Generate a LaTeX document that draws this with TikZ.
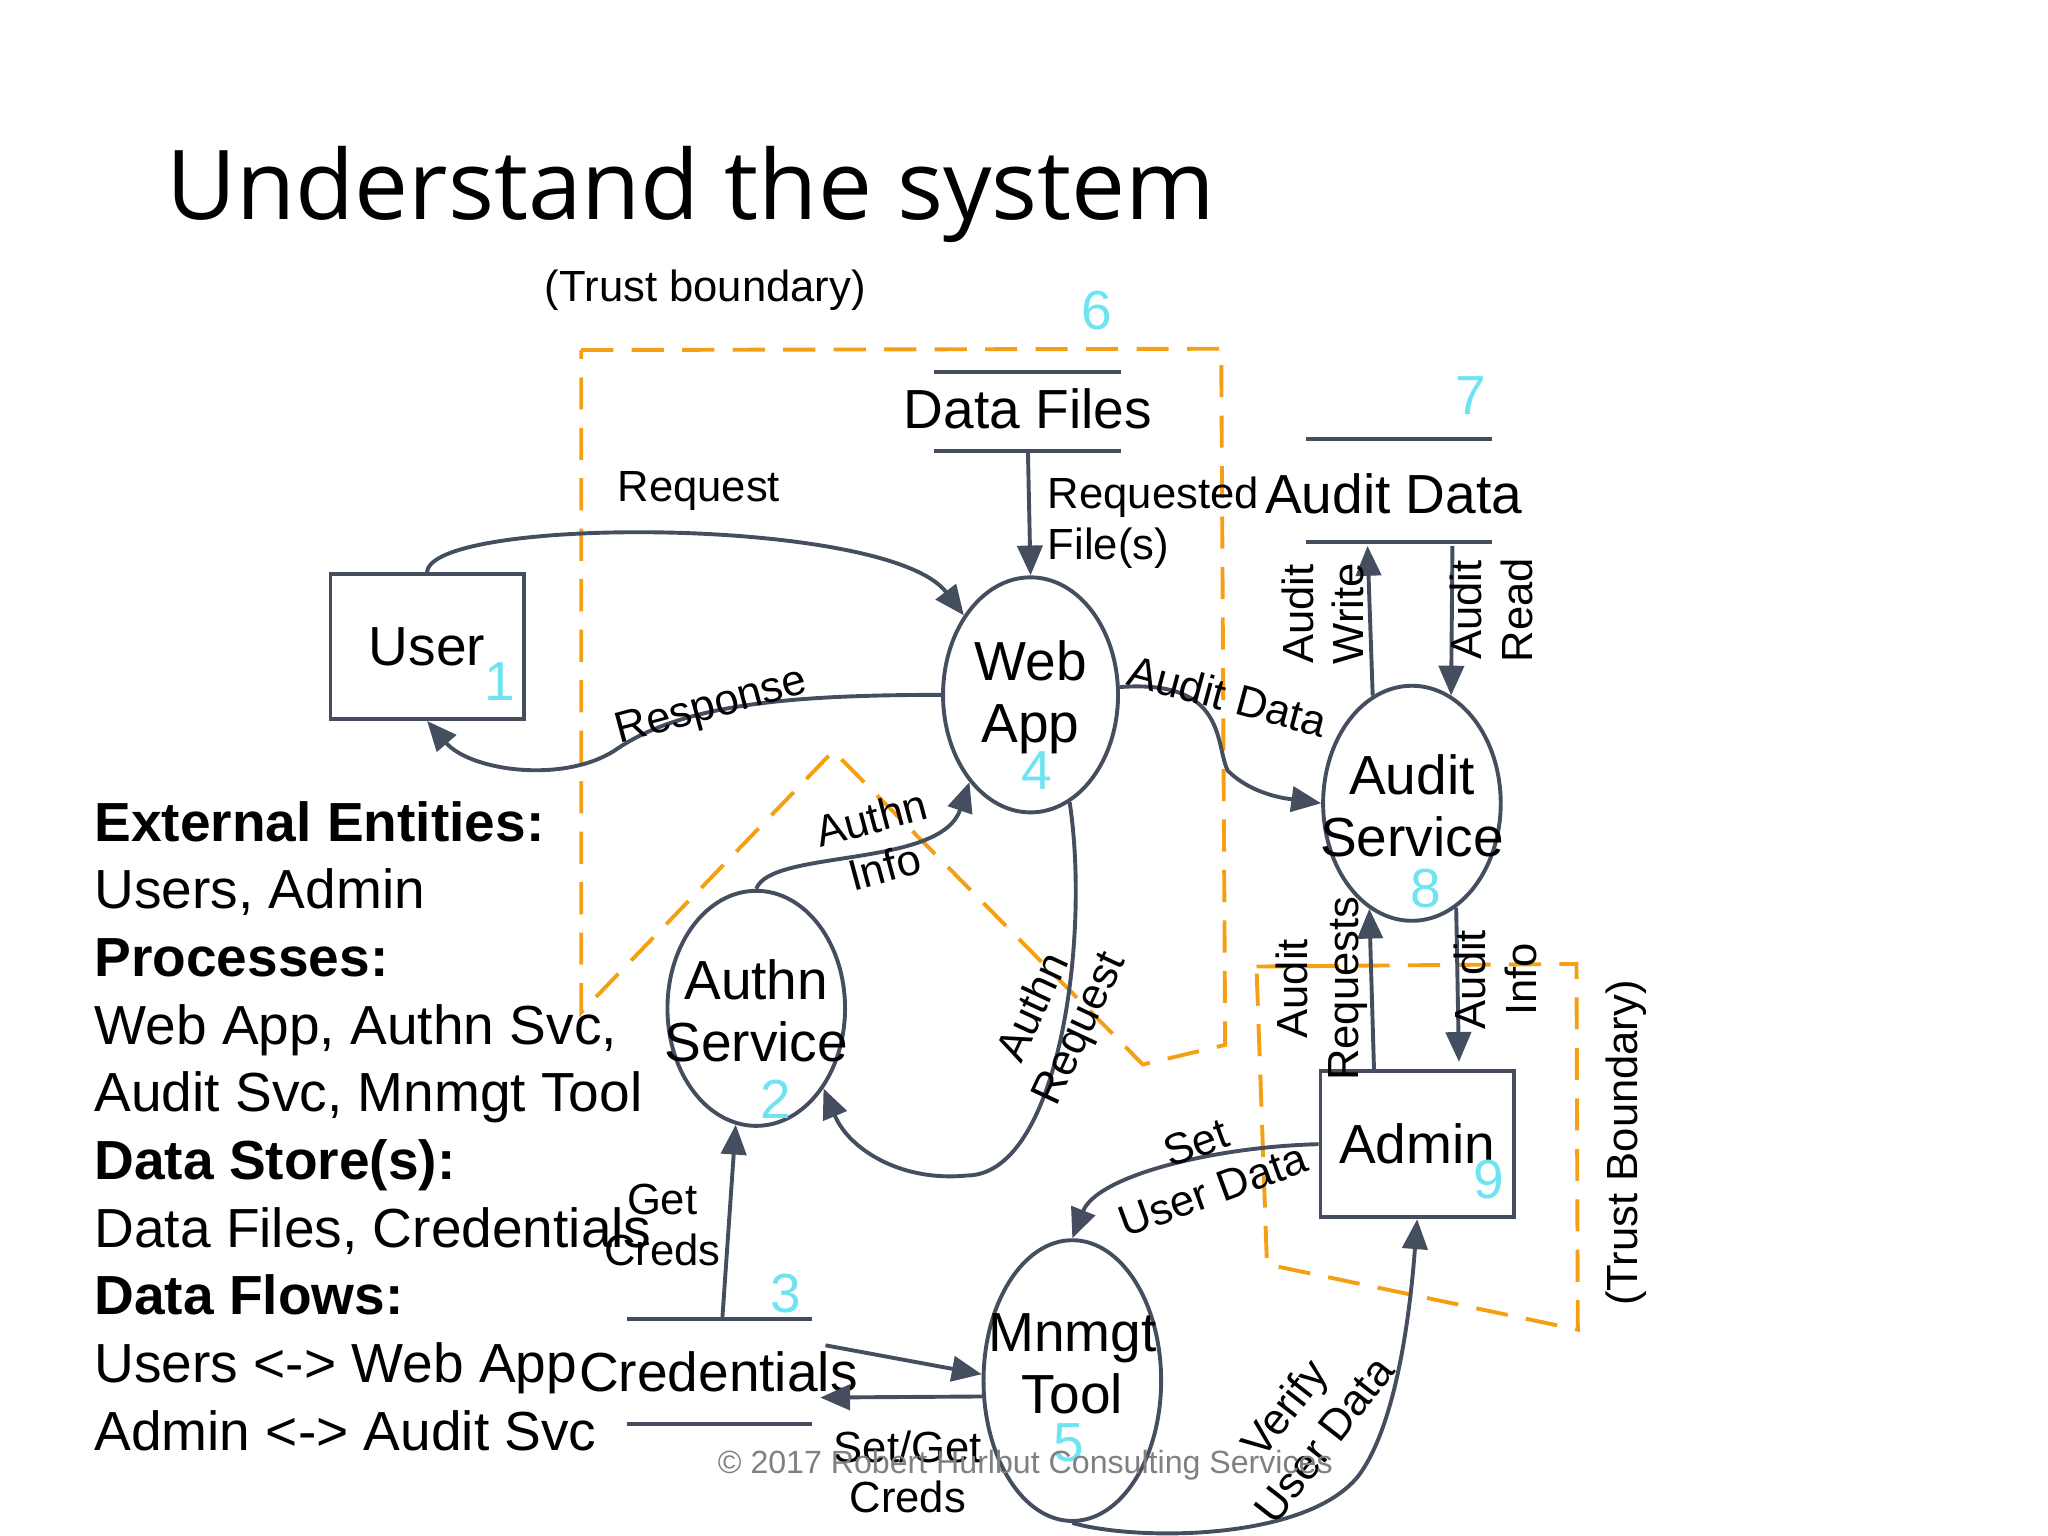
\documentclass[tikz,border=0pt]{standalone}
\usepackage{fontspec}
\setmainfont{Liberation Sans}
\newfontfamily\titlefont{Open Sans}
\usetikzlibrary{arrows.meta,shapes.geometric}
\definecolor{ln}{RGB}{68,78,95}
\definecolor{cy}{RGB}{110,228,240}
\definecolor{orng}{RGB}{245,160,20}
\begin{document}
\begin{tikzpicture}[x=0.02cm,y=-0.02cm,
 every node/.style={font=\fontsize{24}{27}\selectfont,inner sep=0pt},
 lbl/.style={font=\fontsize{19}{22}\selectfont,align=center},
 num/.style={text=cy,font=\fontsize{24}{27}\selectfont},
 proc/.style={draw=ln,line width=1.7pt,ellipse},
 ptext/.style={align=center},
 box/.style={draw=ln,line width=1.7pt,rectangle},
 st/.style={draw=ln,line width=1.7pt},
 fl/.style={draw=ln,line width=1.7pt,-{Triangle[length=13pt,width=11pt]}},
 tb/.style={draw=orng,line width=1.7pt,dash pattern=on 14pt off 8pt}]
\useasboundingbox (0,0) rectangle (1568,1176);
\node[anchor=base west,font=\titlefont\fontsize{42}{48}\selectfont] (title) at (127,168) {Understand the system};
\node[lbl] (tbl) at (540,222) {(Trust boundary)};
\node[num] (n6) at (840,238) {6};
\draw[tb] (445,268) -- (935,267) -- (938,800) -- (875,815) -- (638,575) -- (445,775) -- cycle;
\draw[tb] (962,740) -- (1207,738) -- (1208,1018) -- (970,968) -- cycle;
\node[lbl,rotate=90] (tbr) at (1245,875) {(Trust Boundary)};
% stores
\draw[st] (715,285) -- (858,285) (715,345) -- (858,345);
\node (df) at (787,313) {Data Files};
\coordinate (dfb) at (787,345);
\draw[st] (1000,336) -- (1142,336) (1000,415) -- (1142,415);
\node (ad) at (1067,378) {Audit Data};
\node[num] (n7) at (1126,303) {7};
\draw[st] (480,1010) -- (622,1010) (480,1090) -- (622,1090);
\node (cr) at (550,1050) {Credentials};
\node[num] (n3) at (602,990) {3};
% entities
\node[box,minimum width=2.96cm,minimum height=2.22cm] (user) at (327,495) {User};
\node[num] (n1) at (383,522) {1};
\node[box,minimum width=2.96cm,minimum height=2.24cm] (admin) at (1085,876) {Admin};
\node[num] (n9) at (1140,903) {9};
% processes
\node[proc,minimum width=2.68cm,minimum height=3.6cm] (web) at (789,532) {};
\node[ptext] (webt) at (789,534) {Web\\App};
\node[num] (n4) at (794,590) {4};
\node[proc,minimum width=2.72cm,minimum height=3.6cm] (aud) at (1081,615) {};
\node[ptext] (audt) at (1081,617) {Audit\\Service};
\node[num] (n8) at (1092,680) {8};
\node[proc,minimum width=2.72cm,minimum height=3.6cm] (auth) at (579,772) {};
\node[ptext] (autht) at (579,774) {Authn\\Service};
\node[num] (n2) at (594,842) {2};
\node[proc,minimum width=2.72cm,minimum height=4.3cm] (mn) at (821,1057) {};
\node[ptext] (mnt) at (821,1044) {Mnmgt\\Tool};
\node[num] (n5) at (818,1105) {5};
% flows
\draw[fl] (user.north) .. controls (330,395) and (680,395) .. (web.130);
\node[lbl] (lreq) at (535,376) {Request};
\draw[fl] (web.west) .. controls (600,532) and (520,540) .. (470,575) .. controls (430,600) and (360,590) .. (user.south);
\node[lbl,rotate=15] (lresp) at (545,542) {Response};
\draw[fl] (dfb) -- (web.north);
\node[lbl,align=left,anchor=north west] (lrf) at (802,365) {Requested\\File(s)};
\draw[fl] (web.5) .. controls (940,520) and (930,570) .. (940,590) .. controls (960,610) and (990,612) .. (aud.west);
\node[lbl,rotate=-15] (lad) at (940,533) {Audit Data};
\draw[fl] (aud.110) -- (1047,418);
\node[lbl,rotate=90] (law) at (1013,470) {Audit\\Write};
\draw[fl] (1112,418) -- (aud.70);
\node[lbl,rotate=90] (lar) at (1142,467) {Audit\\Read};
\draw[fl] (1052,820) -- (aud.248);
\node[lbl,rotate=90] (lareq) at (1012,757) {Audit\\Requests};
\draw[fl] (aud.293) -- (1117,813);
\node[lbl,rotate=90] (lai) at (1145,750) {Audit\\Info};
\draw[fl] (auth.north) .. controls (590,650) and (720,665) .. (web.235);
\node[lbl,rotate=15] (lai2) at (672,645) {Authn\\Info};
\draw[fl] (web.290) .. controls (835,720) and (810,900) .. (740,900) .. controls (690,905) and (650,880) .. (auth.310);
\node[lbl,rotate=65] (lar2) at (810,780) {Authn\\Request};
\draw[fl] (553,1010) -- (auth.260);
\node[lbl] (lgc) at (507,938) {Get\\Creds};
\draw[fl] (632,1030) -- (mn.176);
\draw[fl] (mn.190) -- (628,1070);
\node[lbl] (lsg) at (695,1127) {Set/Get\\Creds};
\draw[fl] (admin.west) .. controls (930,878) and (840,900) .. (mn.north);
\node[lbl,rotate=20] (lsu) at (922,893) {Set\\User Data};
\draw[fl] (mn.south) .. controls (870,1180) and (1000,1180) .. (1040,1130) .. controls (1070,1090) and (1080,1000) .. (admin.south);
\node[lbl,rotate=52] (lvu) at (998,1090) {Verify\\User Data};
% left text
\node[anchor=north west,align=left,font=\fontsize{24}{29.5}\selectfont] (legend) at (72,613) {%
\textbf{External Entities:}\\Users, Admin\\\textbf{Processes:}\\Web App, Authn Svc,\\Audit Svc, Mnmgt Tool\\\textbf{Data Store(s):}\\Data Files, Credentials\\\textbf{Data Flows:}\\Users <-> Web App\\Admin <-> Audit Svc};
\node[text=gray,font=\fontsize{14}{16}\selectfont] (copy) at (785,1122) {© 2017 Robert Hurlbut Consulting Services};
\end{tikzpicture}
\end{document}
